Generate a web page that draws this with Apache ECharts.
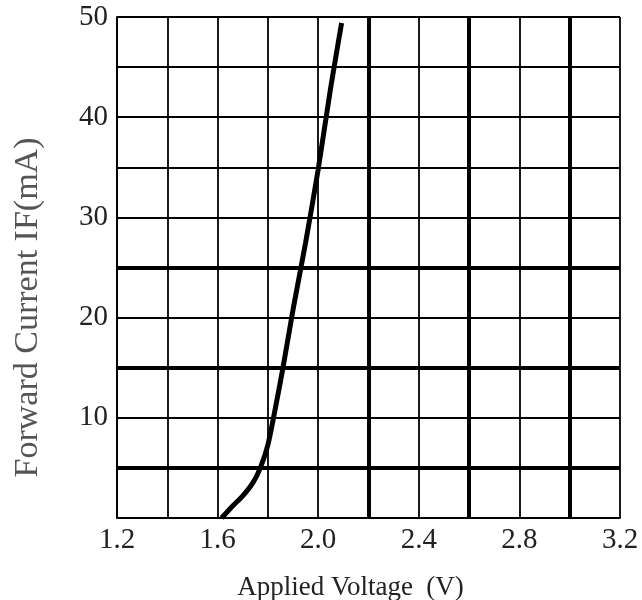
<!DOCTYPE html>
<html>
<head>
<meta charset="utf-8">
<script src="https://cdn.jsdelivr.net/npm/echarts@6/dist/echarts.min.js"></script>
<style>html,body{margin:0;padding:0;background:#fff}#c{width:642px;height:600px}</style>
</head>
<body>
<div id="c"></div>
<script>
const voltage = [1.616, 1.66, 1.70, 1.74, 1.77, 1.80, 1.83, 1.86, 1.90, 1.95, 2.00, 2.05, 2.093];
const current = [0, 1.2, 2.2, 3.5, 5.0, 7.3, 11.0, 15.0, 20.8, 27.5, 34.8, 43.0, 49.4];
const xTicks = [1.2, 1.6, 2.0, 2.4, 2.8, 3.2];
const yTicks = [10, 20, 30, 40, 50];
const thickX = [2.2, 2.6, 3.0];
const thickY = [5, 15, 25];

const font = '"Liberation Serif", "DejaVu Serif", serif';
const chart = echarts.init(document.getElementById('c'));
const markData = thickX.map(v => ({xAxis: v})).concat(thickY.map(v => ({yAxis: v})));
chart.setOption({
  animation: false,
  backgroundColor: '#fff',
  grid: {left: 117, right: 22, top: 17, bottom: 82, containLabel: false, outerBoundsMode: 'none'},
  xAxis: {
    type: 'value', min: 1.2, max: 3.2, interval: 0.2,
    name: 'Applied Voltage  (V)', nameLocation: 'middle', nameGap: 56,
    nameTextStyle: {fontFamily: font, fontSize: 27, color: '#222', padding: [0, 36, 0, 0]},
    axisLine: {show: true, lineStyle: {color: '#000', width: 1.8}},
    axisTick: {show: false},
    axisLabel: {
      fontFamily: font, fontSize: 29, color: '#222', margin: 8,
      formatter: v => xTicks.some(t => Math.abs(t - v) < 1e-6) ? v.toFixed(1) : ''
    },
    splitLine: {show: true, lineStyle: {color: '#000', width: 1.8}}
  },
  yAxis: {
    type: 'value', min: 0, max: 50, interval: 5,
    name: 'Forward Current IF(mA)', nameLocation: 'middle', nameGap: 72, nameRotate: 90,
    nameTextStyle: {fontFamily: font, fontSize: 34, color: '#555', padding: [0, 80, 0, 0]},
    axisLine: {show: true, lineStyle: {color: '#000', width: 1.8}},
    axisTick: {show: false},
    axisLabel: {
      fontFamily: font, fontSize: 29, color: '#222', margin: 9,
      formatter: v => yTicks.indexOf(Math.round(v)) >= 0 ? String(Math.round(v)) : ''
    },
    splitLine: {show: true, lineStyle: {color: '#000', width: 1.8}}
  },
  series: [{
    type: 'line',
    data: voltage.map((v, i) => [v, current[i]]),
    smooth: 0.25,
    symbol: 'none',
    lineStyle: {color: '#000', width: 5},
    markLine: {
      silent: true, symbol: ['none', 'none'], label: {show: false},
      lineStyle: {color: '#000', width: 4, type: 'solid'},
      data: markData
    },
    z: 5
  }]
});
</script>
</body>
</html>
